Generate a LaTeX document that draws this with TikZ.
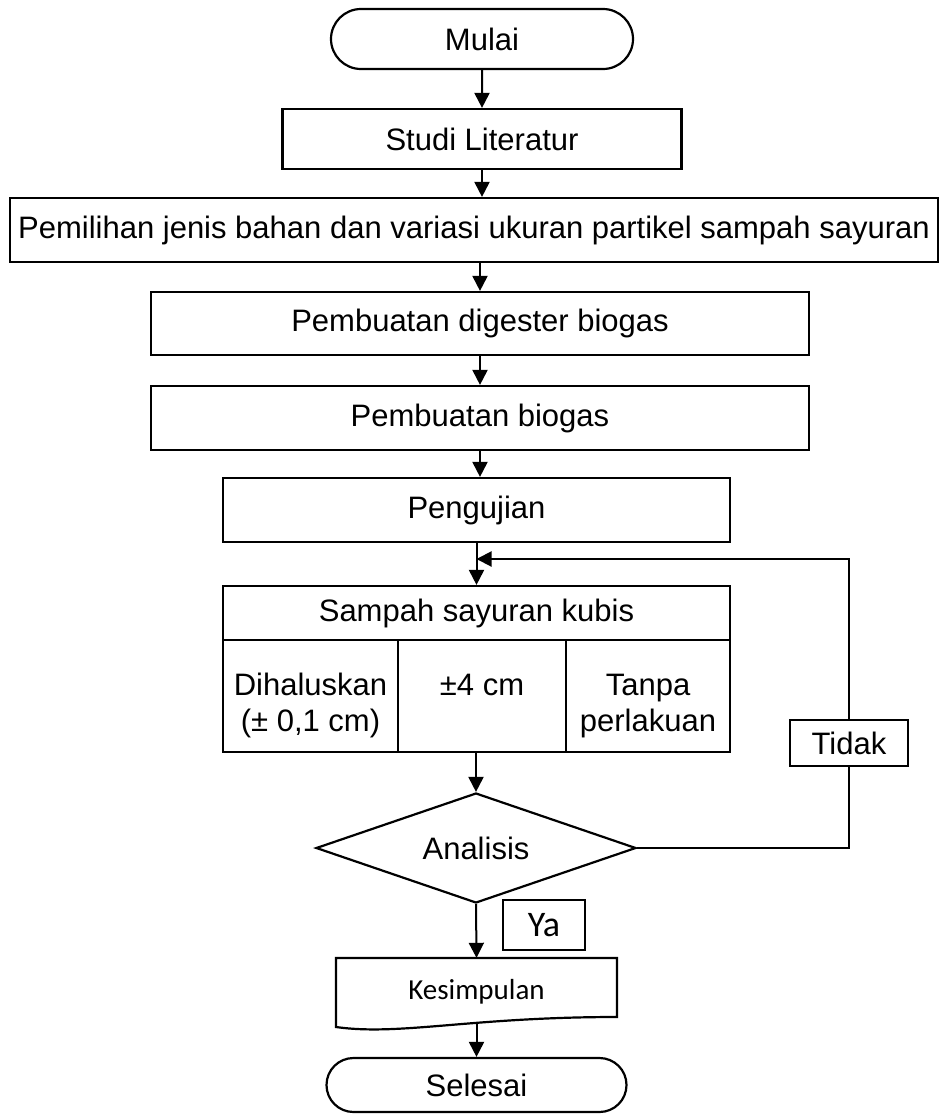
\documentclass[tikz,border=0pt]{standalone}
\usepackage{fontspec}
\setmainfont{Liberation Sans}
\newfontfamily\calibri{Carlito}
\usetikzlibrary{shapes.geometric, shapes.misc, arrows.meta}
\tikzset{
	box/.style = {draw = black,
				  shape = rectangle,
				  line width = 2.2pt,
				  inner sep = 0pt,
				  align = center,
				  font = \fontsize{31}{40}\selectfont},
	terminal/.style = {box, shape = rounded rectangle},
	keputusan/.style = {box, shape = diamond, aspect = 2.9},
	garis/.style = {line width = 2pt},
	>={Triangle[length = 15pt, width = 15pt]}
}
\newcommand{\isisel}[1]{\renewcommand{\arraystretch}{0.9}%
	\begin{tabular}{@{}c@{}}\rule{0pt}{46pt}#1\end{tabular}}
\begin{document}
\begin{tikzpicture}[x = 1pt, y = -1pt]
	\useasboundingbox (0, 0) rectangle (944, 1114);

	\draw (482, 39) node[terminal,
					  minimum width = 302pt,
					  minimum height = 60pt
			   ](mulai){Mulai};
	\draw (482, 139) node[box,
					  minimum width = 399pt,
					  minimum height = 60pt
			   ](studi){Studi Literatur};
	\draw (474, 230) node[box,
					  minimum width = 928pt,
					  minimum height = 64pt
			   ](pemilihan){Pemilihan jenis bahan dan variasi ukuran partikel sampah sayuran};
	\draw (480, 323.5) node[box,
					  minimum width = 658pt,
					  minimum height = 63pt
			   ](digester){Pembuatan digester biogas};
	\draw (480, 418) node[box,
					  minimum width = 658pt,
					  minimum height = 64pt
			   ](biogas){Pembuatan biogas};
	\draw (476.5, 510) node[box,
					  minimum width = 507pt,
					  minimum height = 64pt
			   ](pengujian){Pengujian};

	\draw (476.5, 613) node[box,
					  minimum width = 507pt,
					  minimum height = 54pt
			   ](sampah){Sampah sayuran kubis};
	\draw (310.5, 696) node[box,
					  minimum width = 175pt,
					  minimum height = 112pt
			   ](halus){\isisel{Dihaluskan\\(± 0,1 cm)}};
	\draw (482, 696) node[box,
					  minimum width = 168pt,
					  minimum height = 112pt
			   ](empat){\isisel{±4 cm\\\mbox{}}};
	\draw (648, 696) node[box,
					  minimum width = 164pt,
					  minimum height = 112pt
			   ](tanpa){\isisel{Tanpa\\perlakuan}};

	\draw (476, 848) node[keputusan,
					  minimum width = 320pt,
					  minimum height = 110pt
			   ](analisis){Analisis};
	\draw (849, 743) node[box,
					  minimum width = 118pt,
					  minimum height = 46pt
			   ](tidak){Tidak};
	\draw (544, 925) node[box,
					  minimum width = 82pt,
					  minimum height = 50pt,
					  font = \calibri\fontsize{36}{40}\selectfont
			   ](ya){Ya};

	\draw[line width = 2.2pt] (336, 958) -- (617, 958) -- (617, 1017)
		.. controls (470, 1017) and (400, 1036) .. (336, 1027) -- cycle;
	\draw (476.5, 992) node[inner sep = 0pt,
					  minimum width = 281pt,
					  minimum height = 68pt,
					  font = \calibri\fontsize{29}{34}\selectfont
			   ](kesimpulan){Kesimpulan};
	\coordinate (gelombang) at (476.5, 1024);

	\draw (476.5, 1085) node[terminal,
					  minimum width = 300pt,
					  minimum height = 54pt
			   ](selesai){Selesai};

	\coordinate (masuk) at (476.5, 559);

	\draw[garis, ->] (mulai) -- (studi);
	\draw[garis, ->] (studi.south) -- (studi.south |- pemilihan.north);
	\draw[garis, ->] (digester.north |- pemilihan.south) -- (digester.north);
	\draw[garis, ->] (digester) -- (biogas);
	\draw[garis, ->] (biogas.south) -- (biogas.south |- pengujian.north);
	\draw[garis, ->] (pengujian) -- (sampah);

	\draw[garis, ->] (analisis.north |- empat.south) -- (analisis.north);
	\draw[garis] (analisis.east) -| (tidak.south);
	\draw[garis, ->] (tidak.north) |- (masuk);

	\draw[garis, ->] (analisis.south) -- (kesimpulan.north);
	\draw[garis, ->] (gelombang) -- (selesai.north);
\end{tikzpicture}
\end{document}
